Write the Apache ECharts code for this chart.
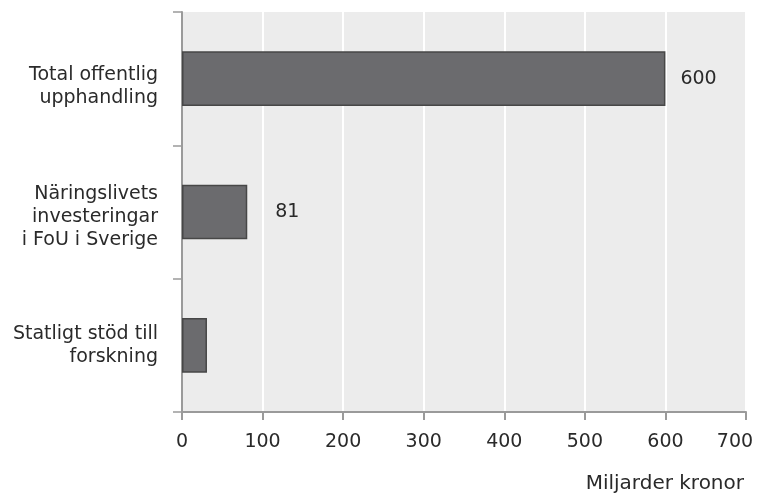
<!DOCTYPE html>
<html>
<head>
<meta charset="utf-8">
<script src="https://cdn.jsdelivr.net/npm/echarts@6/dist/echarts.min.js"></script>
<style>
  html, body { margin: 0; padding: 0; background: #fff; }
  #chart { width: 762px; height: 494px; }
</style>
</head>
<body>
<div id="chart"></div>
<script>
// Categories (top to bottom) and values in billions of SEK
const categories = [
  'Total offentlig\nupphandling',
  'Näringslivets\ninvesteringar\ni FoU i Sverige',
  'Statligt stöd till\nforskning'
];
const values = [600, 81, 31];
// Which bars carry a value label
const showLabel = [true, true, false];
const xTicks = { min: 0, max: 700, interval: 100 };
const xAxisTitle = 'Miljarder kronor';

// Layout tweaks (not data): value-label gaps and downward nudge of category labels
const labelGap = [15, 28, 0];
const catLabelShift = [8, 5, 0];

const FONT = 'DejaVu Sans';
const TEXT = '#2a2a2a';
const baseText = { fontFamily: FONT, fontSize: 19, color: TEXT, lineHeight: 23 };

// Rich styles for category labels: a thin spacer line on top pushes the block down
const catRich = { n: Object.assign({}, baseText) };
catLabelShift.forEach((s, i) => {
  catRich['s' + i] = { fontSize: 1, lineHeight: 2 * s, color: 'rgba(0,0,0,0)' };
});

const chart = echarts.init(document.getElementById('chart'), null, { renderer: 'canvas' });

chart.setOption({
  animation: false,
  title: {
    text: xAxisTitle,
    right: 13,
    top: 469,
    textStyle: { fontFamily: FONT, fontSize: 20, fontWeight: 'normal', color: TEXT }
  },
  grid: {
    left: 182, right: 16, top: 12, bottom: 82,
    outerBoundsMode: 'none',
    containLabel: false,
    show: true, backgroundColor: '#ececec', borderWidth: 0
  },
  xAxis: {
    type: 'value',
    min: xTicks.min, max: xTicks.max, interval: xTicks.interval,
    axisLine: { show: true, lineStyle: { color: '#9a9a9a', width: 2 } },
    axisTick: { show: true, length: 8, lineStyle: { color: '#9a9a9a', width: 2 } },
    axisLabel: {
      fontFamily: FONT, fontSize: 19, color: TEXT, margin: 21,
      formatter: v => v === xTicks.max ? '{last|' + v + '}' : String(v),
      rich: { last: { fontFamily: FONT, fontSize: 19, color: TEXT, padding: [0, 22, 0, 0] } }
    },
    splitLine: { show: true, lineStyle: { color: '#ffffff', width: 2 } }
  },
  yAxis: {
    type: 'category',
    inverse: true,
    data: categories,
    axisLine: { show: true, lineStyle: { color: '#9a9a9a', width: 2 } },
    axisTick: { show: true, length: 9, lineStyle: { color: '#9a9a9a', width: 1.5 } },
    axisLabel: {
      fontFamily: FONT, fontSize: 19, color: TEXT,
      margin: 24, lineHeight: 23, align: 'right',
      formatter: (val, idx) => {
        const lines = val.split('\n').map(line => '{n|' + line + '}');
        if (catLabelShift[idx] > 0) lines.unshift('{s' + idx + '| }');
        return lines.join('\n');
      },
      rich: catRich
    },
    splitLine: { show: false }
  },
  series: [{
    type: 'bar',
    barWidth: '41%',
    data: values.map((v, i) => ({
      value: v,
      label: {
        show: showLabel[i],
        position: 'right',
        distance: labelGap[i],
        fontFamily: FONT, fontSize: 19, color: TEXT
      }
    })),
    itemStyle: { color: '#6b6b6e', borderColor: '#474747', borderWidth: 1.5 }
  }]
});
</script>
</body>
</html>
